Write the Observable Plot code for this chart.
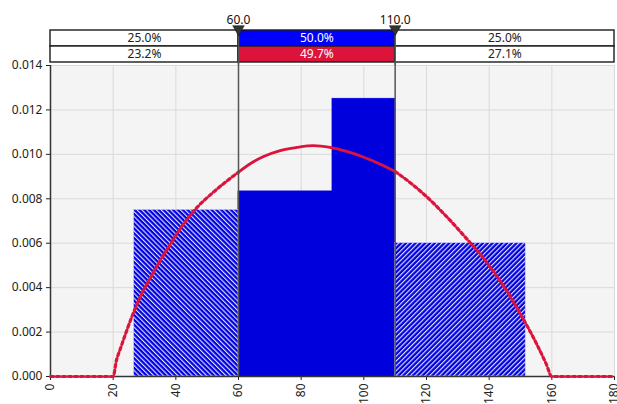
<!DOCTYPE html>
<html>
<head>
<meta charset="utf-8">
<script src="https://cdn.jsdelivr.net/npm/d3@7"></script>
<script src="https://cdn.jsdelivr.net/npm/@observablehq/plot@0.6"></script>
<style>
  html, body { margin: 0; padding: 0; background: #fff; }
  #chart svg { display: block; }
</style>
</head>
<body>
<div id="chart"></div>
<script>
// ---- data ----
const xTicks = [0, 20, 40, 60, 80, 100, 120, 140, 160, 180];
const yTicks = [0, 0.002, 0.004, 0.006, 0.008, 0.010, 0.012, 0.014];
const markers = [60, 110];
const bandEdges = [0, 60, 110, 180];
const targetPct = ["25.0%", "50.0%", "25.0%"];
const fittedPct = ["23.2%", "49.7%", "27.1%"];
const binEdges = [26.67, 60, 90, 110, 151.67];
const binHeights = [0.0075, 0.00833, 0.0125, 0.006];
const curveX = [0, 20, 21, 22.3, 23.9, 26, 28.7, 31.9, 34.5, 38.2, 41.4, 46.7, 52, 56.3, 60, 64, 68, 73.3, 78.6, 83.9, 89.2, 94.5, 99.8, 105.1, 110, 115, 120, 126.4, 132.7, 139.1, 145.5, 150.8, 155.1, 158.2, 160, 180];
const curveY = [0, 0, 0.0007, 0.00125, 0.0019, 0.0027, 0.0036, 0.00445, 0.0051, 0.00595, 0.00665, 0.0076, 0.0083, 0.0088, 0.0092, 0.0096, 0.0099, 0.01017, 0.01031, 0.01039, 0.01031, 0.01013, 0.00988, 0.00957, 0.00923, 0.0087, 0.0081, 0.0072, 0.00622, 0.00516, 0.00388, 0.00261, 0.00148, 0.00057, 0, 0];

// ---- derived tables ----
const bins = binHeights.map((h, i) => ({x1: binEdges[i], x2: binEdges[i + 1], h}));
const curve = curveX.map((x, i) => ({x, y: curveY[i]}));
const cells = [];
for (let i = 0; i < bandEdges.length - 1; i++) {
  cells.push({row: "target", x1: bandEdges[i], x2: bandEdges[i + 1], text: targetPct[i], mid: i === 1});
  cells.push({row: "fitted", x1: bandEdges[i], x2: bandEdges[i + 1], text: fittedPct[i], mid: i === 1});
}
const lo = markers[0], hi = markers[1];
const BLUE = "#0000e0";
const RED = "#dc143c";
const font = {fontFamily: "'Noto Sans', 'DejaVu Sans', sans-serif", fontSize: "12px", background: "transparent", overflow: "visible", color: "#222"};

const common = {width: 617, marginLeft: 50, marginRight: 3};
const cellFill = d => d.mid ? (d.row === "target" ? "#0000ff" : RED) : "#fff";

// ---- banner ----
const banner = Plot.plot({
  ...common,
  height: 64,
  marginTop: 29.5,
  marginBottom: 2.3,
  style: font,
  x: {domain: [0, 180], axis: null},
  y: {domain: ["target", "fitted"], axis: null, padding: 0},
  marks: [
    Plot.barX(cells, {
      x1: "x1", x2: "x2", y: "row", fill: cellFill,
      stroke: "#1a1a1a", strokeWidth: 1.4
    }),
    Plot.text(cells, {
      x: d => (d.x1 + d.x2) / 2, y: "row", text: "text",
      fill: d => d.mid ? "#fff" : "#222", fontSize: 12
    }),
    Plot.ruleX(markers, {stroke: "#555", strokeWidth: 1.5, insetBottom: -3}),
    Plot.dot(markers, {x: d => d, frameAnchor: "top", symbol: "triangle", rotate: 180, r: 4.3, fill: "#333", stroke: "#111", strokeWidth: 0.5, dy: -1}),
    Plot.text(markers, {x: d => d, frameAnchor: "top", dy: -14.5, text: d => d.toFixed(1), fill: "#111", fontSize: 12})
  ]
});

// ---- main chart ----
const main = Plot.plot({
  ...common,
  height: 340,
  marginTop: 1,
  marginBottom: 28,
  style: font,
  x: {domain: [0, 180], ticks: xTicks, tickRotate: -90, tickSize: 4, tickPadding: 3, label: null},
  y: {domain: [0, 0.014], ticks: yTicks, tickFormat: d3.format(".3f"), tickSize: 4, tickPadding: 4, label: null},
  marks: [
    Plot.frame({fill: "#f4f4f4", stroke: null}),
    Plot.ruleX(xTicks, {stroke: "#dadada", strokeWidth: 1}),
    Plot.ruleY(yTicks, {stroke: "#dadada", strokeWidth: 1}),
    Plot.rectY(bins, {
      filter: d => d.x1 >= lo && d.x2 <= hi,
      x1: "x1", x2: "x2", y1: 0, y2: "h",
      fill: "#0000dc", stroke: "#0000dc", strokeWidth: 0.8
    }),
    Plot.rectY(bins, {
      filter: d => d.x2 <= lo,
      x1: "x1", x2: "x2", y1: 0, y2: "h",
      fill: "url(#hatchL)", stroke: "#c8c8ff", strokeWidth: 0.6
    }),
    Plot.rectY(bins, {
      filter: d => d.x1 >= hi,
      x1: "x1", x2: "x2", y1: 0, y2: "h",
      fill: "url(#hatchR)", stroke: "#c8c8ff", strokeWidth: 0.6
    }),
    Plot.ruleX([0], {stroke: "#333", strokeWidth: 1.5}),
    Plot.ruleY([0], {stroke: "#333", strokeWidth: 1.5}),
    Plot.line(curve, {filter: d => d.x <= lo, x: "x", y: "y", stroke: RED, strokeWidth: 3.2, strokeDasharray: "3,3", curve: "monotone-x"}),
    Plot.line(curve, {filter: d => d.x >= lo && d.x <= hi, x: "x", y: "y", stroke: RED, strokeWidth: 2.8, curve: "monotone-x"}),
    Plot.line(curve, {filter: d => d.x >= hi, x: "x", y: "y", stroke: RED, strokeWidth: 3.2, strokeDasharray: "3,3", curve: "monotone-x"}),
    Plot.ruleX(markers, {stroke: "#555", strokeWidth: 1.5, insetTop: -4})
  ]
});

// hatch patterns
d3.select(main).insert("defs", ":first-child").html(`
  <pattern id="hatchL" patternUnits="userSpaceOnUse" width="3.4" height="10" patternTransform="rotate(-45)">
    <rect width="3.4" height="10" fill="${BLUE}"></rect>
    <line x1="0.6" y1="0" x2="0.6" y2="10" stroke="#fff" stroke-width="1"></line>
  </pattern>
  <pattern id="hatchR" patternUnits="userSpaceOnUse" width="3.4" height="10" patternTransform="rotate(45)">
    <rect width="3.4" height="10" fill="${BLUE}"></rect>
    <line x1="0.6" y1="0" x2="0.6" y2="10" stroke="#fff" stroke-width="1"></line>
  </pattern>`);

document.getElementById("chart").append(banner, main);
</script>
</body>
</html>
